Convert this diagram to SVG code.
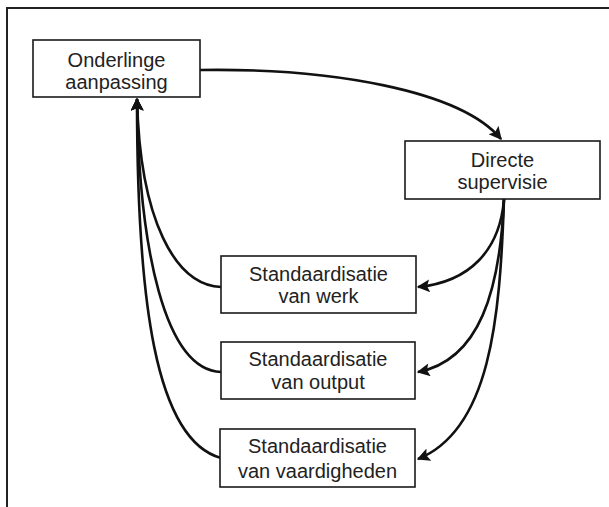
<svg xmlns="http://www.w3.org/2000/svg" width="609" height="507" viewBox="0 0 609 507">
<style>
.box{fill:#fff;stroke:#1a1a1a;stroke-width:1.6}
.t{font-family:"Liberation Sans",Arial,sans-serif;font-size:20px;fill:#222;text-anchor:middle}
.c{fill:none;stroke:#111;stroke-width:2.6}
.frame{fill:none;stroke:#222;stroke-width:2}
</style>
<defs>
<marker id="ah" viewBox="0 0 10 10" refX="9" refY="5" markerWidth="5.5" markerHeight="5" markerUnits="strokeWidth" orient="auto">
<path d="M0,0 L10,5 L0,10 L2,5 Z" fill="#111"/>
</marker>
</defs>
<rect width="609" height="507" fill="#fff"/>
<path class="frame" d="M7,507 L7,8 L609,8"/>
<g id="connectors">
<path class="c" d="M200,70 C330,68 460,90 501,139" marker-end="url(#ah)"/>
<path class="c" d="M504,199 C500,250 470,282 418,287" marker-end="url(#ah)"/>
<path class="c" d="M504,199 C500,290 480,360 418,372" marker-end="url(#ah)"/>
<path class="c" d="M504,199 C500,320 490,430 418,459" marker-end="url(#ah)"/>
<path class="c" d="M221,287 C175,285 140,220 137,99" marker-end="url(#ah)"/>
<path class="c" d="M221,372 C165,370 139,250 137,99" marker-end="url(#ah)"/>
<path class="c" d="M221,458 C155,440 137,300 137,99" marker-end="url(#ah)"/>
</g>
<g id="onderlinge">
<rect class="box" x="33" y="40" width="167" height="57"/>
<text class="t" x="116.5" y="67">Onderlinge</text>
<text class="t" x="116.5" y="89">aanpassing</text>
</g>
<g id="directe">
<rect class="box" x="405" y="141" width="195" height="58"/>
<text class="t" x="502.5" y="167">Directe</text>
<text class="t" x="502.5" y="189">supervisie</text>
</g>
<g id="werk">
<rect class="box" x="221" y="256" width="195" height="57"/>
<text class="t" x="318.5" y="281">Standaardisatie</text>
<text class="t" x="318.5" y="303">van werk</text>
</g>
<g id="output">
<rect class="box" x="221" y="342" width="194" height="57"/>
<text class="t" x="318" y="366">Standaardisatie</text>
<text class="t" x="318" y="389">van output</text>
</g>
<g id="vaardigheden">
<rect class="box" x="220" y="429" width="195" height="58"/>
<text class="t" x="317.5" y="453">Standaardisatie</text>
<text class="t" x="317.5" y="478">van vaardigheden</text>
</g>
</svg>
